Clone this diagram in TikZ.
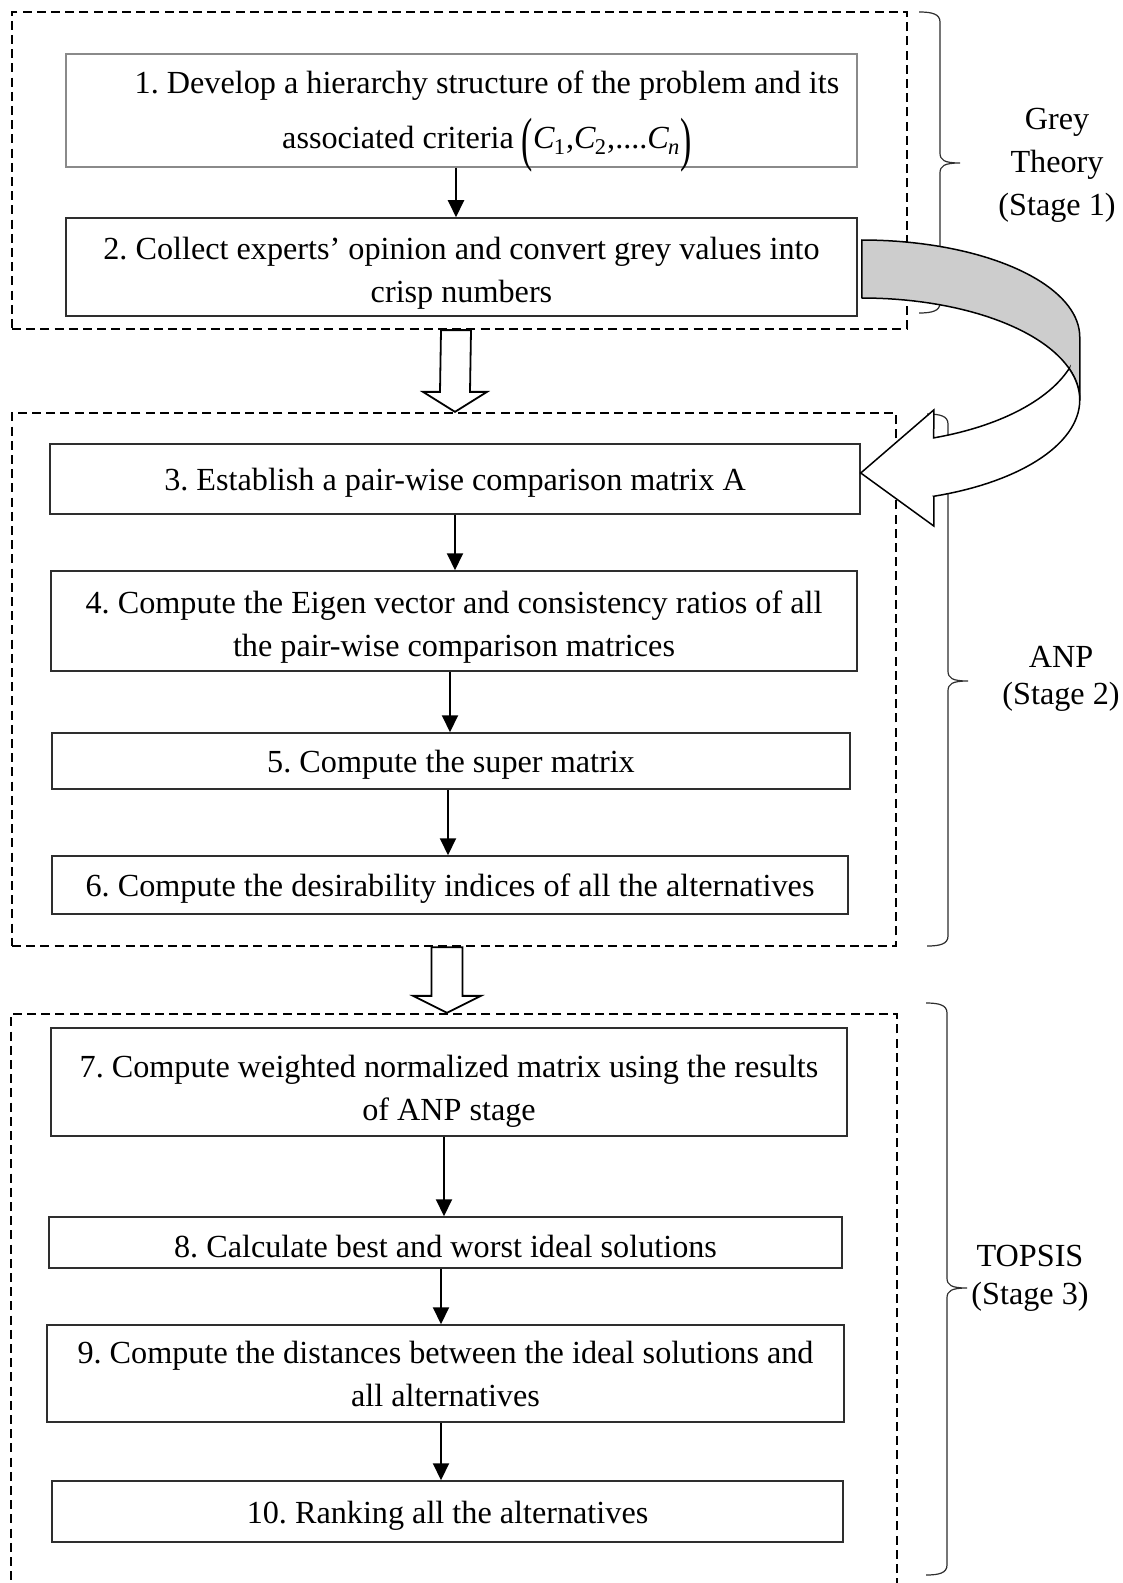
\documentclass[tikz,border=0pt]{standalone}
\usepackage{fontspec}
\setmainfont{Liberation Serif}
\usepackage{graphicx}
\usetikzlibrary{arrows.meta,calc}
\frenchspacing

\definecolor{boxline}{HTML}{2E2E2E}
\definecolor{softline}{HTML}{8A8A8A}
\definecolor{ribbon}{HTML}{CDCDCD}

% right-hand curly brace: x, top, middle, bottom
\newcommand{\stagebrace}[4]{%
  \draw[bracepen] (#1-21,#2) .. controls (#1-8,#2) and (#1,#2+2) .. (#1,#2+10)
    -- (#1,#3-10) .. controls (#1,#3-3) and (#1+4,#3) .. (#1+20,#3)
    .. controls (#1+4,#3) and (#1,#3+3) .. (#1,#3+10)
    -- (#1,#4-10) .. controls (#1,#4-2) and (#1-8,#4) .. (#1-21,#4);}

% subscripted italic C
\newcommand{\critC}[1]{\textit{C}\kern-0.5pt\textsubscript{#1}}
% tall parentheses
\newcommand{\tallparen}[1]{\raisebox{-5.5pt}{\scalebox{1.05}[1.85]{#1}}}

\begin{document}
\begin{tikzpicture}[x=0.5pt,y=-0.5pt,
  every node/.style={font=\fontsize{16.1}{21.5}\selectfont, inner sep=0pt},
  stepbox/.style={draw=boxline, line width=0.75pt, align=center,
    execute at begin node=\rule{0pt}{15pt}},
  stagebox/.style={draw=black, line width=1.15pt, dash pattern=on 4.5pt off 2.6pt},
  flow/.style={line width=1pt, -{Triangle[length=8.5pt,width=8pt]}},
  hollow/.style={draw=black, fill=white, line width=0.9pt, line join=miter},
  bracepen/.style={draw=boxline, line width=0.6pt},
  stagelabel/.style={align=center},
  tightlabel/.style={align=center, font=\fontsize{16.1}{18.8}\selectfont}]

\clip (0,0) rectangle (1123,1583);
\fill[white] (0,0) rectangle (1123,1583);

% stage frames
\node[stagebox, minimum width=447.5pt, minimum height=158.5pt] (g1) at (459.5,170.5) {};
\node[stagebox, minimum width=442pt, minimum height=266.5pt] (g2) at (454,679.5) {};
\node[stagebox, minimum width=443pt, minimum height=298pt] (g3) at (454,1312) {};

% steps
\node[stepbox, draw=softline, minimum width=395.5pt, minimum height=56.5pt] (b1) at (461.5,110.5) {};
\node[align=center] (t1) at (487,122) {1. Develop a hierarchy structure of the problem and its\\[6pt]
  associated criteria \tallparen{(}\critC{1},\critC{2},....\critC{\textit{n}}\tallparen{)}};
\node[stepbox, minimum width=395.5pt, minimum height=49pt] (b2) at (461.5,267)
  {\rule{0pt}{17pt}2. Collect experts’ opinion and convert grey values into\\crisp numbers};
\node[stepbox, minimum width=405pt, minimum height=35pt] (b3) at (455,479)
  {3. Establish a pair-wise comparison matrix A};
\node[stepbox, minimum width=403pt, minimum height=50pt] (b4) at (454,621)
  {\rule{0pt}{17pt}4. Compute the Eigen vector and consistency ratios of all\\the pair-wise comparison matrices};
\node[stepbox, minimum width=399pt, minimum height=28pt] (b5) at (451,761)
  {5. Compute the super matrix};
\node[stepbox, minimum width=398pt, minimum height=29pt] (b6) at (450,885)
  {6. Compute the desirability indices of all the alternatives};
\node[stepbox, minimum width=398pt, minimum height=54pt] (b7) at (449,1082)
  {\rule{0pt}{20pt}7. Compute weighted normalized matrix using the results\\of ANP stage};
\node[stepbox, minimum width=396.5pt, minimum height=25.5pt] (b8) at (445.5,1242.5)
  {8. Calculate best and worst ideal solutions};
\node[stepbox, minimum width=398.5pt, minimum height=48.5pt] (b9) at (445.5,1373.5)
  {9. Compute the distances between the ideal solutions and\\all alternatives};
\node[stepbox, minimum width=395.5pt, minimum height=30.5pt] (b10) at (447.5,1511.5)
  {10. Ranking all the alternatives};

% step connectors
\draw[flow] (b1.south -| 456,0) -- (b2.north -| 456,0);
\draw[flow] (b3.south -| 455,0) -- (b4.north -| 455,0);
\draw[flow] (b4.south -| 450,0) -- (b5.north -| 450,0);
\draw[flow] (b5.south -| 448,0) -- (b6.north -| 448,0);
\draw[flow] (b7.south -| 444,0) -- (b8.north -| 444,0);
\draw[flow] (b8.south -| 441,0) -- (b9.north -| 441,0);
\draw[flow] (b9.south -| 441,0) -- (b10.north -| 441,0);

% hollow arrows between stages
\path (g1.south -| 456,0) coordinate (h1a) (g2.north -| 455,0) coordinate (h1b);
\draw[hollow] ($(h1a)+(-15,0)$) -- ($(h1b)+(-15,-20)$) -- ($(h1b)+(-32,-20)$) -- (h1b)
  -- ($(h1b)+(32,-20)$) -- ($(h1b)+(15,-20)$) -- ($(h1a)+(15,0)$) -- cycle;
\path (g2.south -| 447,0) coordinate (h2a) (g3.north -| 447,0) coordinate (h2b);
\draw[hollow] ($(h2a)+(-15.5,0)$) -- ($(h2b)+(-15.5,-17)$) -- ($(h2b)+(-34,-17)$) -- (h2b)
  -- ($(h2b)+(34,-17)$) -- ($(h2b)+(15.5,-17)$) -- ($(h2a)+(15.5,0)$) -- cycle;

% stage braces and labels
\stagebrace{940}{12}{163}{313}
\stagebrace{948}{414}{681}{946}
\stagebrace{947}{1003}{1288}{1575}
\node[stagelabel] (s1) at (1057,165) {Grey\\Theory\\(Stage 1)};
\node[tightlabel] (s2) at (1061,679) {ANP\\(Stage 2)};
\node[tightlabel] (s3) at (1030,1278) {TOPSIS\\(Stage 3)};

% curved ribbon arrow from step 2 back to step 3
\begin{scope}[shift={(b2.east)}]
  \draw[fill=ribbon, line width=0.75pt, line join=round]
    plot[domain=90:0, samples=40] ({4+218*cos(\x)},{70-97*sin(\x)})
    -- plot[domain=0:90, samples=40] ({4+218*cos(\x)},{133-102*sin(\x)}) -- cycle;
  \draw[fill=white, line width=0.75pt, line join=miter]
    plot[domain=17.94:70.72, samples=30] ({4+218*cos(\x)},{68+109*sin(\x)})
    -- (76,143) -- (3,206) -- (76,259) -- (76,229.3)
    -- plot[domain=-70.72:17.94, samples=40] ({4+218*cos(\x)},{133-102*sin(\x)}) -- cycle;
\end{scope}

\end{tikzpicture}
\end{document}
